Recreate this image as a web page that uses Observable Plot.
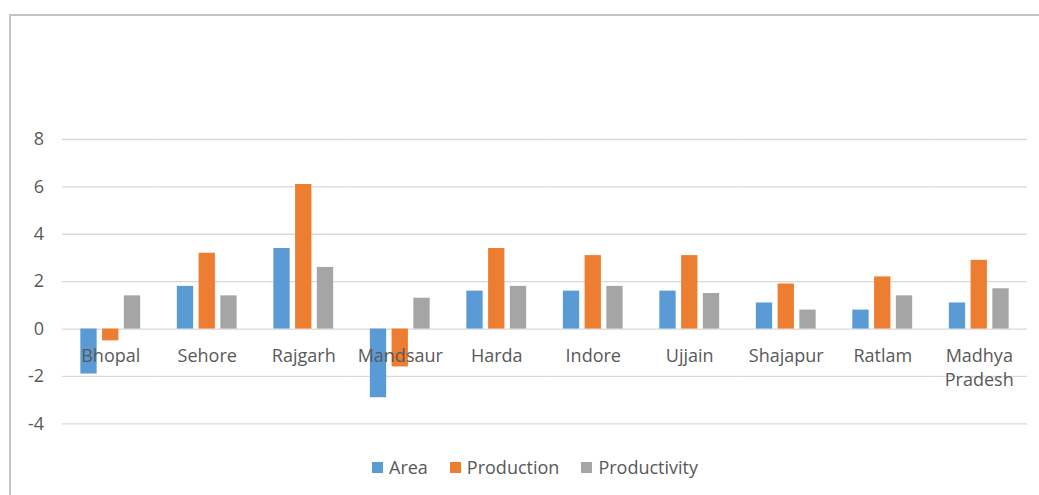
<!DOCTYPE html>
<html>
<head>
<meta charset="utf-8">
<script src="https://cdn.jsdelivr.net/npm/d3@7"></script>
<script src="https://cdn.jsdelivr.net/npm/@observablehq/plot@0.6"></script>
<style>
  html, body { margin: 0; padding: 0; background: #fff; }
  body { width: 1039px; height: 495px; position: relative; overflow: hidden; font-family: "Open Sans", sans-serif; }
  #frameTop { position: absolute; left: 9px; top: 14px; width: 1040px; height: 2px; background: #c4c4c4; }
  #frameLeft { position: absolute; left: 9px; top: 14px; width: 2px; height: 490px; background: #c4c4c4; }
  #chart { position: absolute; left: 0; top: 0; }
  #legend { position: absolute; top: 455px; left: 0; width: 1070px; display: flex; justify-content: center; gap: 22px; font-size: 18px; color: #595959; }
  .item { display: flex; align-items: center; gap: 6px; }
  .sw { width: 11px; height: 11px; display: inline-block; }
</style>
</head>
<body>
<div id="frameTop"></div>
<div id="frameLeft"></div>
<div id="chart"></div>
<div id="legend"></div>
<script>
const districts = ["Bhopal","Sehore","Rajgarh","Mandsaur","Harda","Indore","Ujjain","Shajapur","Ratlam","Madhya Pradesh"];
const districtLabels = ["Bhopal","Sehore","Rajgarh","Mandsaur","Harda","Indore","Ujjain","Shajapur","Ratlam","Madhya\nPradesh"];
const series = ["Area","Production","Productivity"];
const area = [-1.9, 1.8, 3.4, -2.9, 1.6, 1.6, 1.6, 1.1, 0.8, 1.1];
const production = [-0.5, 3.2, 6.1, -1.6, 3.4, 3.1, 3.1, 1.9, 2.2, 2.9];
const productivity = [1.4, 1.4, 2.6, 1.3, 1.8, 1.8, 1.5, 0.8, 1.4, 1.7];
const yTicks = [-4, -2, 0, 2, 4, 6, 8];
const colors = ["#5b9bd5", "#ed7d31", "#a5a5a5"];

const valuesBySeries = [area, production, productivity];
const rows = [];
districts.forEach((d, i) => {
  series.forEach((s, j) => rows.push({district: d, series: s, value: valuesBySeries[j][i]}));
});
const labelRows = districts.map((d, i) => ({district: d, label: districtLabels[i], zero: 0}));

const fxPadInner = 0.38, fxPadOuter = 0.19;
const plotLeft = 62, plotRight = 1027;
const step = (plotRight - plotLeft) / districts.length;
const gapHalf = step * fxPadInner / 2;

const chart = Plot.plot({
  width: 1039,
  height: 440,
  marginLeft: plotLeft,
  marginRight: 1039 - plotRight,
  marginTop: 139,
  marginBottom: 16.7,
  style: {fontFamily: "Open Sans, sans-serif", fontSize: "18px", color: "#595959", background: "transparent"},
  fx: {domain: districts, paddingInner: fxPadInner, paddingOuter: fxPadOuter, round: false, axis: null, label: null},
  x: {domain: series, paddingInner: 0.25, paddingOuter: 0, round: false, axis: null},
  y: {domain: [-4, 8], label: null},
  color: {domain: series, range: colors},
  marks: [
    Plot.ruleY(yTicks, {y: d => d, stroke: "#d9d9d9", strokeWidth: 1.3, insetLeft: -gapHalf, insetRight: -gapHalf}),
    Plot.barY(rows, {fx: "district", x: "series", y: "value", fill: "series"}),
    Plot.axisY({ticks: yTicks, tickFormat: d => String(d), tickSize: 0, tickPadding: 18.5 + step * fxPadOuter, label: null, fill: "#595959", fontSize: 18}),
    Plot.text(labelRows, {fx: "district", y: "zero", text: "label", dy: 16, lineAnchor: "top", lineHeight: 1.33, fill: "#595959", fontSize: 18})
  ]
});
document.getElementById("chart").appendChild(chart);

const legend = document.getElementById("legend");
series.forEach((s, j) => {
  const item = document.createElement("div");
  item.className = "item";
  const sw = document.createElement("span");
  sw.className = "sw";
  sw.style.background = colors[j];
  const t = document.createElement("span");
  t.textContent = s;
  item.appendChild(sw);
  item.appendChild(t);
  legend.appendChild(item);
});
</script>
</body>
</html>
